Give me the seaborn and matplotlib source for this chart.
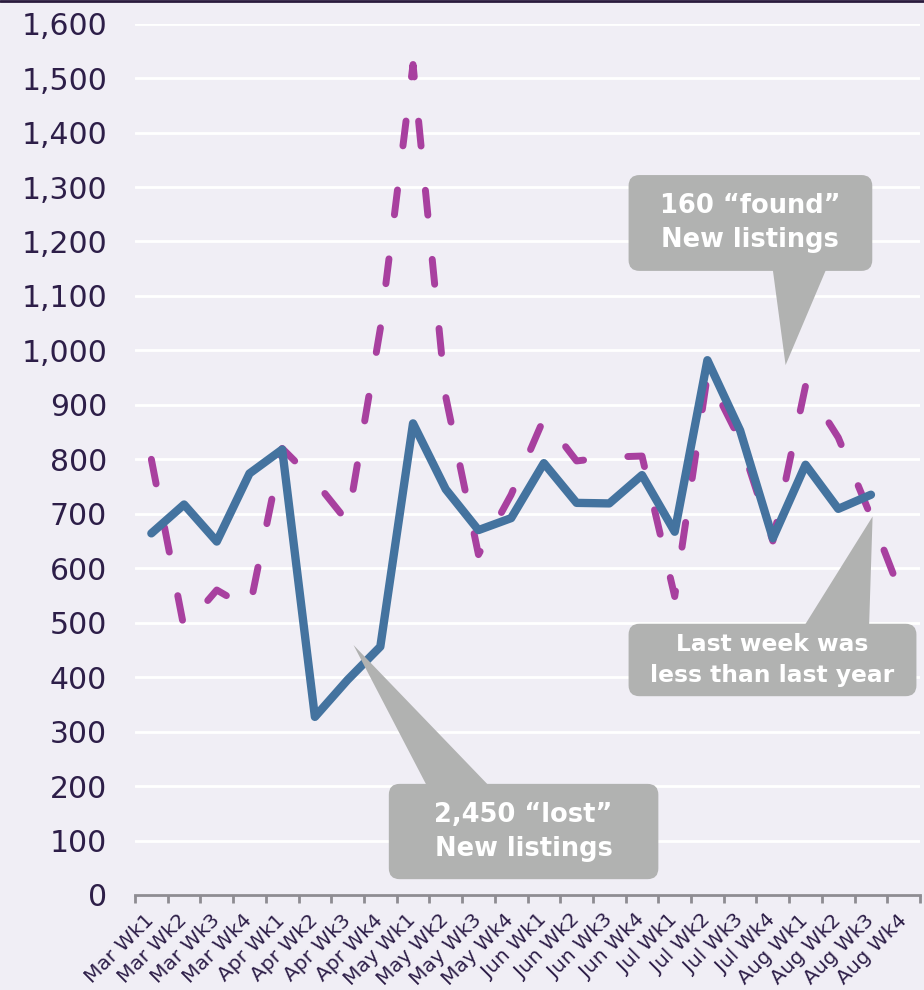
import numpy as np
import pandas as pd
import matplotlib
matplotlib.use('Agg')
import matplotlib.pyplot as plt
import seaborn as sns
from matplotlib.patches import FancyBboxPatch, Polygon

# weekly new listings, this year (solid, ends at Aug Wk3) vs last year (dashed)
weeks = ['Mar Wk1', 'Mar Wk2', 'Mar Wk3', 'Mar Wk4',
         'Apr Wk1', 'Apr Wk2', 'Apr Wk3', 'Apr Wk4',
         'May Wk1', 'May Wk2', 'May Wk3', 'May Wk4',
         'Jun Wk1', 'Jun Wk2', 'Jun Wk3', 'Jun Wk4',
         'Jul Wk1', 'Jul Wk2', 'Jul Wk3', 'Jul Wk4',
         'Aug Wk1', 'Aug Wk2', 'Aug Wk3', 'Aug Wk4']
this_year = [664, 717, 649, 774, 818, 327, 395, 456, 866, 745, 670, 692,
             793, 720, 719, 771, 667, 982, 853, 655, 790, 709, 735]
last_year = [800, 490, 560, 525, 820, 760, 685, 1040, 1525, 915, 625, 735,
             875, 797, 804, 806, 548, 955, 835, 650, 935, 840, 695, 540]
y_ticks = list(range(0, 1700, 100))

bg = '#f0eef5'
ink = '#2d1e48'
grey = '#b1b2b1'

sns.set_theme(style='white')
plt.rcParams['font.family'] = ['DejaVu Sans']

fig = plt.figure(figsize=(9.24, 9.9), dpi=100, facecolor=bg)
ax = fig.add_axes([0.1461, 0.0960, 0.8496, 0.8801])
ax.set_facecolor(bg)

df_last = pd.DataFrame({'week': range(len(last_year)), 'listings': last_year})
df_this = pd.DataFrame({'week': range(len(this_year)), 'listings': this_year})

sns.lineplot(data=df_last, x='week', y='listings', ax=ax, color='#a8409f', lw=5, zorder=3)
sns.lineplot(data=df_this, x='week', y='listings', ax=ax, color='#44739f', lw=6, zorder=4)

dashed = ax.lines[0]
dashed.set_dashes([3.6, 6.4])
dashed.set_dash_capstyle('round')
dashed.set_dash_joinstyle('round')
solid = ax.lines[1]
solid.set_solid_capstyle('round')
solid.set_solid_joinstyle('round')

ax.set_xlim(-0.5, len(weeks) - 0.5)
ax.set_ylim(0, 1600)
ax.set_xticks(range(len(weeks)))
ax.set_xticklabels(weeks, rotation=45, ha='right', va='center', rotation_mode='anchor')
ax.set_xticks(np.arange(-0.5, len(weeks), 1), minor=True)
ax.tick_params(axis='x', which='major', length=0, pad=16, labelsize=14.5, labelcolor=ink)
ax.tick_params(axis='x', which='minor', length=6, width=2, color='#8e8c92', direction='out', bottom=True)
ax.set_yticks(y_ticks)
ax.set_yticklabels([f'{v:,}' for v in y_ticks])
ax.tick_params(axis='y', length=0, pad=20, labelsize=21.5, labelcolor=ink)
ax.yaxis.grid(True, color='white', lw=2)
ax.set_axisbelow(True)
ax.set_xlabel('')
ax.set_ylabel('')
for s in ['left', 'top', 'right']:
    ax.spines[s].set_visible(False)
ax.spines['bottom'].set_color('#8e8c92')
ax.spines['bottom'].set_linewidth(2)

# callouts (box in data units, pointer base on box edge, tip)
aspect = (0.8496 * 924 / len(weeks)) / (0.8801 * 990 / 1600)


def callout(x0, x1, y0, y1, base, base_y, tip, text, fs):
    box = FancyBboxPatch((x0, y0), x1 - x0, y1 - y0,
                         boxstyle='round,pad=0,rounding_size=0.33',
                         mutation_aspect=aspect, fc=grey, ec='none',
                         zorder=5, clip_on=False)
    ax.add_patch(box)
    ax.add_patch(Polygon([(base[0], base_y), (base[1], base_y), tip],
                         closed=True, fc=grey, ec='none', zorder=5, clip_on=False))
    ax.text((x0 + x1) / 2, (y0 + y1) / 2, text, ha='center', va='center',
            color='white', fontweight='bold', fontsize=fs, linespacing=1.4, zorder=6)


callout(14.59, 22.04, 1146, 1322, (18.95, 20.78), 1170, (19.39, 973),
        '160 \u201cfound\u201d\nNew listings', 18.5)
callout(7.26, 15.50, 29, 204, (8.60, 10.65), 180, (6.18, 459),
        '2,450 \u201clost\u201d\nNew listings', 18.5)
callout(14.59, 23.39, 365, 498, (19.71, 21.93), 470, (22.05, 695),
        'Last week was\nless than last year', 16.8)

fig.add_artist(plt.Line2D([0, 1], [0.9985, 0.9985], transform=fig.transFigure,
                          color='#2a1b3d', lw=2))

fig.savefig('out.png', dpi=100, facecolor=bg)
